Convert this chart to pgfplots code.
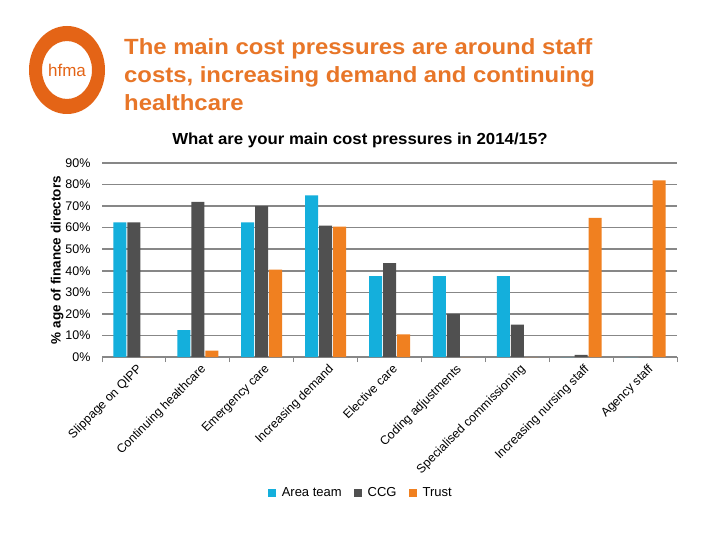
\documentclass[border=0pt]{standalone}
\usepackage{pgfplots}
\pgfplotsset{compat=1.18}
\usepackage{pgfplotstable}
\usepackage{fontspec}
\setmainfont{Liberation Sans}
\definecolor{areateam}{RGB}{20,175,220}
\definecolor{ccg}{RGB}{80,80,80}
\definecolor{trust}{RGB}{240,128,32}
\definecolor{hfmaorange}{RGB}{228,100,22}
\definecolor{titleorange}{RGB}{232,118,40}
\definecolor{gridgray}{RGB}{135,135,135}
\pgfplotstableread{
x A C T
0 62.5 62.5 0
1 12.5 72 3
2 62.5 70 40.5
3 75 61 60.5
4 37.5 43.5 10.5
5 37.5 20 0
6 37.5 15 0
7 0 1 64.5
8 0 0 82
}\datatable
\begin{document}
\begin{tikzpicture}
\path[use as bounding box, fill=white] (0,0) rectangle (720pt,-540pt);
\fill[hfmaorange, even odd rule] (67pt,-70pt) ellipse [x radius=38pt, y radius=44pt] (67pt,-70pt) ellipse [x radius=25pt, y radius=29pt];
\node[text=hfmaorange, font=\fontsize{17}{17}\selectfont] at (67pt,-70pt) {hfma};
\node[anchor=north west, inner sep=0pt, text=titleorange, font=\fontsize{22}{28}\selectfont\bfseries] at (124pt,-35pt) {\scalebox{1.085}[1]{\begin{tabular}{@{}l@{}}The main cost pressures are around staff\\costs, increasing demand and continuing\\healthcare\end{tabular}}};
\node[font=\fontsize{16}{16}\selectfont\bfseries] at (360pt,-140pt) {\scalebox{1.05}[1]{What are your main cost pressures in 2014/15?}};
\begin{axis}[
  at={(102pt,-357pt)}, anchor=south west,
  scale only axis, width=575pt, height=194pt,
  ybar=1pt, bar width=13pt,
  xmin=-0.5, xmax=8.5, ymin=0, ymax=90,
  ytick={0,10,...,90},
  yticklabel={\pgfmathprintnumber{\tick}\%},
  /pgf/number format/assume math mode=true,
  ymajorgrids, grid style={gridgray, line width=1.5pt},
  axis x line*=bottom, axis y line*=left,
  y axis line style={draw=none},
  x axis line style={gridgray, line width=1pt, -},
  ytick style={draw=none},
  xtick={0,...,8},
  xticklabels={Slippage on QIPP, Continuing healthcare, Emergency care, Increasing demand, Elective care, Coding adjustments, Specialised commissioning, Increasing nursing staff, Agency staff},
  minor xtick={-0.5,0.5,...,8.5},
  major x tick style={draw=none},
  minor x tick style={gridgray, line width=1pt},
  tick align=outside, minor tick length=5pt, major tick length=0pt,
  xticklabel style={rotate=45, anchor=north east, font=\fontsize{12.3}{12.3}\selectfont, inner sep=1pt, xshift=-2pt, yshift=-5pt},
  yticklabel style={font=\fontsize{12.5}{12.5}\selectfont, xshift=-8pt},
  ylabel={\% age of finance directors},
  ylabel style={at={(axis description cs:-0.078,0.5)}, anchor=center, font=\bfseries\fontsize{13.5}{13.5}\selectfont},
  legend style={at={(axis description cs:0.450,-0.70)}, anchor=center, draw=none, legend columns=3, font=\fontsize{13}{13}\selectfont, /tikz/every even column/.append style={column sep=10pt}, /tikz/every odd column/.append style={column sep=4pt}},
  legend image code/.code={\fill[#1] (0pt,-4pt) rectangle (8pt,4pt);},
]
\addplot[fill=areateam, draw=none] table[x=x, y=A] {\datatable};
\addplot[fill=ccg, draw=none] table[x=x, y=C] {\datatable};
\addplot[fill=trust, draw=none] table[x=x, y=T] {\datatable};
\legend{Area team, CCG, Trust}
\end{axis}
\end{tikzpicture}
\end{document}
